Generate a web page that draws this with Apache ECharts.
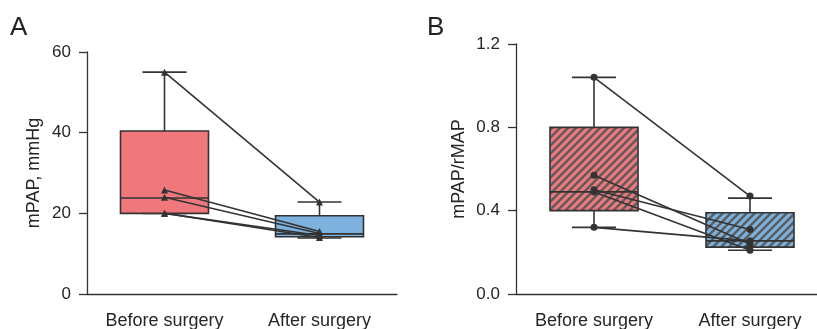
<!DOCTYPE html>
<html>
<head>
<meta charset="utf-8">
<script src="https://cdn.jsdelivr.net/npm/echarts@6/dist/echarts.min.js"></script>
<style>
html, body { margin: 0; padding: 0; background: #fff; }
#main { width: 817px; height: 329px; }
</style>
</head>
<body>
<div id="main"></div>
<script>
var categories = ['Before surgery', 'After surgery'];

// box stats per category: [min, Q1, median, Q3, max]
var mpapBox = [[20, 20, 23.8, 40.4, 55], [13.9, 14.2, 14.9, 19.4, 22.8]];
var ratioBox = [[0.32, 0.40, 0.49, 0.80, 1.04], [0.21, 0.225, 0.255, 0.39, 0.46]];

// paired patient values
var mpapBefore = [55, 25.8, 24, 20, 20];
var mpapAfter = [22.8, 15.5, 15, 14.5, 14];
var ratioBefore = [1.04, 0.57, 0.50, 0.49, 0.32];
var ratioAfter = [0.47, 0.24, 0.31, 0.21, 0.255];

var mpapTicks = [0, 20, 40, 60];
var ratioTicks = [0, 0.4, 0.8, 1.2];

(function(){
	var myChart = echarts.init(document.getElementById('main'));
	var font = 'Liberation Sans, Arial, Helvetica, sans-serif';
	var ink = '#333333';

	function hatch(base) {
		var c = document.createElement('canvas');
		c.width = 8; c.height = 8;
		var ctx = c.getContext('2d');
		ctx.fillStyle = base;
		ctx.fillRect(0, 0, 8, 8);
		ctx.strokeStyle = '#5c5c5c';
		ctx.lineWidth = 2.4;
		ctx.beginPath();
		ctx.moveTo(-2, 10); ctx.lineTo(10, -2);
		ctx.moveTo(-6, 6); ctx.lineTo(6, -6);
		ctx.moveTo(2, 14); ctx.lineTo(14, 2);
		ctx.stroke();
		return { image: c, repeat: 'repeat' };
	}

	var red = '#f0787d', blue = '#7db1de';

	function boxSeries(idx, stats, fills) {
		return {
			type: 'custom',
			xAxisIndex: idx,
			yAxisIndex: idx,
			z: 1,
			silent: true,
			data: stats.map(function (s, i) { return [i].concat(s); }),
			renderItem: function (params, api) {
				var i = api.value(0);
				var pMin = api.coord([i, api.value(1)]);
				var pQ1 = api.coord([i, api.value(2)]);
				var pMed = api.coord([i, api.value(3)]);
				var pQ3 = api.coord([i, api.value(4)]);
				var pMax = api.coord([i, api.value(5)]);
				var cx = pMed[0], bw = 88, cw = 44;
				var st = { stroke: ink, lineWidth: 1.6 };
				return {
					type: 'group',
					children: [
						{ type: 'line', shape: { x1: cx, y1: pQ3[1], x2: cx, y2: pMax[1] }, style: st },
						{ type: 'line', shape: { x1: cx - cw / 2, y1: pMax[1], x2: cx + cw / 2, y2: pMax[1] }, style: st },
						{ type: 'line', shape: { x1: cx, y1: pQ1[1], x2: cx, y2: pMin[1] }, style: st },
						{ type: 'line', shape: { x1: cx - cw / 2, y1: pMin[1], x2: cx + cw / 2, y2: pMin[1] }, style: st },
						{ type: 'rect', shape: { x: cx - bw / 2, y: pQ3[1], width: bw, height: pQ1[1] - pQ3[1] },
							style: { fill: fills[i], stroke: ink, lineWidth: 1.6 } },
						{ type: 'line', shape: { x1: cx - bw / 2, y1: pMed[1], x2: cx + bw / 2, y2: pMed[1] }, style: st }
					]
				};
			}
		};
	}

	function pairSeries(idx, before, after, symbol) {
		return before.map(function (b, k) {
			return {
				type: 'line',
				xAxisIndex: idx,
				yAxisIndex: idx,
				z: 3,
				silent: true,
				symbol: symbol,
				symbolSize: 7,
				showAllSymbol: true,
				lineStyle: { color: ink, width: 1.6 },
				itemStyle: { color: ink },
				data: [b, after[k]]
			};
		});
	}

	function xAxis(idx) {
		return {
			type: 'category',
			gridIndex: idx,
			data: categories,
			axisLine: { lineStyle: { color: ink, width: 1.3 } },
			axisTick: { alignWithLabel: true, length: 8, lineStyle: { color: ink, width: 1.3 } },
			axisLabel: { color: '#262626', fontSize: 18, fontFamily: font, margin: 18 }
		};
	}

	function yAxis(idx, ticks, name, fmt) {
		return {
			type: 'value',
			gridIndex: idx,
			min: ticks[0],
			max: ticks[ticks.length - 1],
			interval: ticks[1] - ticks[0],
			name: name,
			nameLocation: 'middle',
			nameGap: idx === 0 ? 44 : 48,
			nameTextStyle: { color: '#262626', fontSize: 18, fontFamily: font },
			splitLine: { show: false },
			axisLine: { show: true, lineStyle: { color: ink, width: 1.3 } },
			axisTick: { show: true, length: 8, lineStyle: { color: ink, width: 1.3 } },
			axisLabel: { color: '#262626', fontSize: 17, fontFamily: font, margin: 16, formatter: fmt }
		};
	}

	var option = {
		animation: false,
		grid: [
			{ left: 87, top: 52, width: 310, height: 242, outerBoundsMode: 'none', containLabel: false },
			{ left: 516, top: 44, width: 312, height: 250, outerBoundsMode: 'none', containLabel: false }
		],
		graphic: [
			{ type: 'text', left: 10, top: 15, style: { text: 'A', fontSize: 26, fontFamily: font, fill: '#222' } },
			{ type: 'text', left: 427, top: 15, style: { text: 'B', fontSize: 26, fontFamily: font, fill: '#222' } }
		],
		xAxis: [xAxis(0), xAxis(1)],
		yAxis: [
			yAxis(0, mpapTicks, 'mPAP, mmHg', function (v) { return String(v); }),
			yAxis(1, ratioTicks, 'mPAP/rMAP', function (v) { return v.toFixed(1); })
		],
		series: [
			boxSeries(0, mpapBox, [red, blue]),
			boxSeries(1, ratioBox, [hatch(red), hatch(blue)])
		].concat(pairSeries(0, mpapBefore, mpapAfter, 'triangle'))
		 .concat(pairSeries(1, ratioBefore, ratioAfter, 'circle'))
	};
	myChart.setOption(option);
	window.addEventListener("resize", function() {
		myChart.resize();
	});
})();
</script>
</body>
</html>
